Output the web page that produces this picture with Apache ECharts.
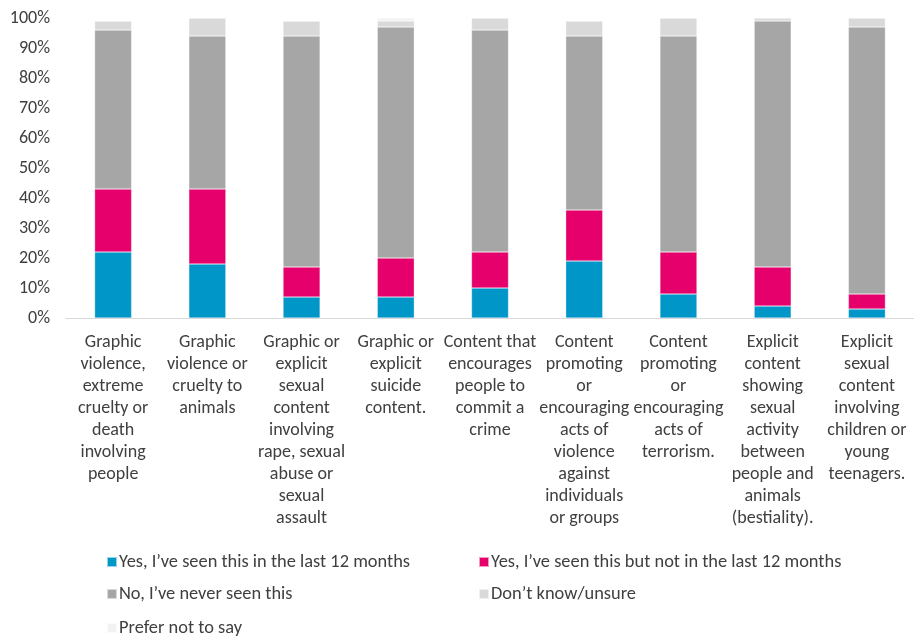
<!DOCTYPE html>
<html>
<head>
<meta charset="utf-8">
<script src="https://cdn.jsdelivr.net/npm/echarts@6/dist/echarts.min.js"></script>
<style>
  html, body { margin: 0; padding: 0; background: #fff; }
  #chart { width: 914px; height: 639px; }
</style>
</head>
<body>
<div id="chart"></div>
<script>
// Content categories (line breaks as wrapped under each bar)
const categories = [
  "Graphic\nviolence,\nextreme\ncruelty or\ndeath\ninvolving\npeople",
  "Graphic\nviolence or\ncruelty to\nanimals",
  "Graphic or\nexplicit\nsexual\ncontent\ninvolving\nrape, sexual\nabuse or\nsexual\nassault",
  "Graphic or\nexplicit\nsuicide\ncontent.",
  "Content that\nencourages\npeople to\ncommit a\ncrime",
  "Content\npromoting\nor\nencouraging\nacts of\nviolence\nagainst\nindividuals\nor groups",
  "Content\npromoting\nor\nencouraging\nacts of\nterrorism.",
  "Explicit\ncontent\nshowing\nsexual\nactivity\nbetween\npeople and\nanimals\n(bestiality).",
  "Explicit\nsexual\ncontent\ninvolving\nchildren or\nyoung\nteenagers."
];

// Response shares, percent
const seenLast12 = [22, 18, 7, 7, 10, 19, 8, 4, 3];
const seenNotLast12 = [21, 25, 10, 13, 12, 17, 14, 13, 5];
const neverSeen = [53, 51, 77, 77, 74, 58, 72, 82, 89];
const dontKnow = [3, 6, 5, 2, 4, 5, 6, 1, 3];
const preferNot = [0, 0, 0, 1, 0, 0, 0, 0, 0];

const seriesNames = [
  "Yes, I\u2019ve seen this in the last 12 months",
  "Yes, I\u2019ve seen this but not in the last 12 months",
  "No, I\u2019ve never seen this",
  "Don\u2019t know/unsure",
  "Prefer not to say"
];

const yTicks = [0, 10, 20, 30, 40, 50, 60, 70, 80, 90, 100];

const FONT = "Carlito, 'Liberation Sans Narrow', 'DejaVu Sans Condensed', sans-serif";
const colors = ["#0096c8", "#e5006b", "#a6a6a6", "#d9d9d9", "#f2f2f2"];
const seriesData = [seenLast12, seenNotLast12, neverSeen, dontKnow, preferNot];

const legendPos = [
  { left: 101, top: 548 },
  { left: 473, top: 548 },
  { left: 101, top: 580 },
  { left: 473, top: 580 },
  { left: 101, top: 614 }
];

const chart = echarts.init(document.getElementById("chart"), null, { renderer: "canvas" });

chart.setOption({
  animation: false,
  backgroundColor: "#ffffff",
  grid: { left: 66, top: 18, width: 853, height: 300, containLabel: false },
  legend: seriesNames.map((name, i) => ({
    data: [name],
    left: legendPos[i].left,
    top: legendPos[i].top,
    icon: "rect",
    itemWidth: 10,
    itemHeight: 10,
    itemGap: 0,
    textStyle: { fontFamily: FONT, fontSize: 18.4, color: "#404040", padding: [0, 0, 0, -3] },
    selectedMode: false
  })),
  xAxis: {
    type: "category",
    data: categories,
    axisLine: { show: true, lineStyle: { color: "#d9d9d9", width: 1 } },
    axisTick: { show: false },
    axisLabel: {
      interval: 0,
      margin: 13,
      fontFamily: FONT,
      fontSize: 18,
      lineHeight: 22,
      color: "#404040",
      align: "center",
      verticalAlign: "top"
    }
  },
  yAxis: {
    type: "value",
    min: yTicks[0],
    max: yTicks[yTicks.length - 1],
    interval: 10,
    axisLine: { show: false },
    axisTick: { show: false },
    splitLine: { show: false },
    axisLabel: {
      margin: 16,
      fontFamily: FONT,
      fontSize: 18,
      color: "#404040",
      formatter: v => v + "%"
    }
  },
  series: seriesNames.map((name, i) => ({
    name: name,
    type: "bar",
    stack: "total",
    barWidth: 37,
    data: seriesData[i],
    itemStyle: { color: colors[i], borderColor: "rgba(255,255,255,0.6)", borderWidth: 0.5 },
    emphasis: { disabled: true }
  }))
});
</script>
</body>
</html>
